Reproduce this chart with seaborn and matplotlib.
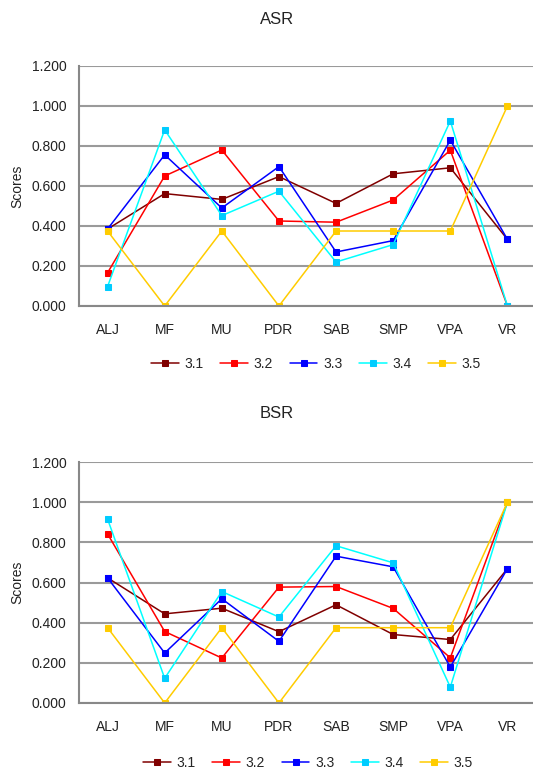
import pandas as pd
import seaborn as sns
from matplotlib import pyplot as plt

categories = ['ALJ', 'MF', 'MU', 'PDR', 'SAB', 'SMP', 'VPA', 'VR']
series = ['3.1', '3.2', '3.3', '3.4', '3.5']

asr_31 = [0.385, 0.562, 0.533, 0.647, 0.513, 0.661, 0.691, 0.333]
asr_32 = [0.166, 0.650, 0.780, 0.425, 0.419, 0.530, 0.779, 0.000]
asr_33 = [0.385, 0.756, 0.490, 0.697, 0.270, 0.327, 0.829, 0.333]
asr_34 = [0.097, 0.881, 0.452, 0.574, 0.220, 0.307, 0.925, 0.000]
asr_35 = [0.375, 0.000, 0.375, 0.000, 0.375, 0.375, 0.375, 1.000]

bsr_31 = [0.623, 0.444, 0.472, 0.355, 0.489, 0.341, 0.316, 0.669]
bsr_32 = [0.842, 0.356, 0.224, 0.577, 0.580, 0.471, 0.225, 1.000]
bsr_33 = [0.623, 0.249, 0.519, 0.307, 0.731, 0.678, 0.179, 0.669]
bsr_34 = [0.916, 0.123, 0.555, 0.428, 0.783, 0.698, 0.079, 1.000]
bsr_35 = [0.375, 0.000, 0.375, 0.000, 0.375, 0.375, 0.375, 1.000]

line_colors = ['#800000', '#FF0000', '#0000FF', '#00FFFF', '#FFCC00']
marker_colors = ['#800000', '#FF0000', '#0000FF', '#00CCFF', '#FFCC00']


def to_long(vals):
  rows = []
  for s, v in zip(series, vals):
    for i, c in enumerate(categories):
      rows.append({'x': i, 'cat': c, 'series': s, 'score': v[i]})
  return pd.DataFrame(rows)


sns.set_style('white')
plt.rcParams['font.family'] = ['Liberation Sans', 'DejaVu Sans']

fig = plt.figure(figsize=(5.33, 7.71), dpi=100)
W, H = 533, 771


def panel(top, bottom, title, title_y, vals, legend_y, legend_x):
  ax = fig.add_axes([79 / W, 1 - bottom / H, (536 - 79) / W, (bottom - top) / H])
  df = to_long(vals)
  for k, s in enumerate(series):
    sub = df[df.series == s]
    sns.lineplot(data=sub, x='x', y='score', ax=ax, color=line_colors[k],
                 marker='s', markersize=5, markerfacecolor=marker_colors[k],
                 markeredgecolor=marker_colors[k], linewidth=1.1, label=s,
                 sort=False)
  ax.set_xlim(-0.5, 7.5)
  ax.set_ylim(0, 1.2)
  ax.set_yticks([0, 0.2, 0.4, 0.6, 0.8, 1.0, 1.2])
  ax.set_yticklabels(['%.3f' % t for t in [0, 0.2, 0.4, 0.6, 0.8, 1.0, 1.2]])
  ax.set_xticks(range(len(categories)))
  ax.set_xticklabels(categories)
  ax.set_xticks([i + 0.5 for i in range(-1, 8)], minor=True)
  ax.tick_params(axis='x', which='major', length=0, pad=12, labelsize=10, colors='#222222')
  ax.tick_params(axis='x', which='minor', length=5, color='#888888', width=1, direction='out')
  ax.tick_params(axis='y', length=5, color='#888888', labelsize=10, colors='#222222', direction='out', pad=4)
  ax.yaxis.grid(True, color='#9a9a9a', linewidth=1.5)
  ax.set_axisbelow(True)
  for side in ['top', 'right']:
    ax.spines[side].set_visible(False)
  ax.spines['left'].set_color('#888888')
  ax.spines['bottom'].set_color('#888888')
  ax.spines['left'].set_linewidth(1.5)
  ax.spines['bottom'].set_linewidth(1.5)
  ax.set_xlabel('')
  ax.set_ylabel('Scores', fontsize=10, color='#222222', labelpad=5)
  fig.text(277 / W, 1 - title_y / H, title, ha='center', va='center', fontsize=12, color='#222222')
  ax.legend(loc='center', bbox_to_anchor=(legend_x / W, 1 - legend_y / H),
            bbox_transform=fig.transFigure, ncol=5, frameon=False,
            fontsize=10, handlelength=2.0, handletextpad=0.4, columnspacing=1.2)
  return ax


panel(66, 306, 'ASR', 20, [asr_31, asr_32, asr_33, asr_34, asr_35], 364, 316)
panel(462, 703, 'BSR', 414, [bsr_31, bsr_32, bsr_33, bsr_34, bsr_35], 763, 308)

fig.savefig('out.png', dpi=100)
